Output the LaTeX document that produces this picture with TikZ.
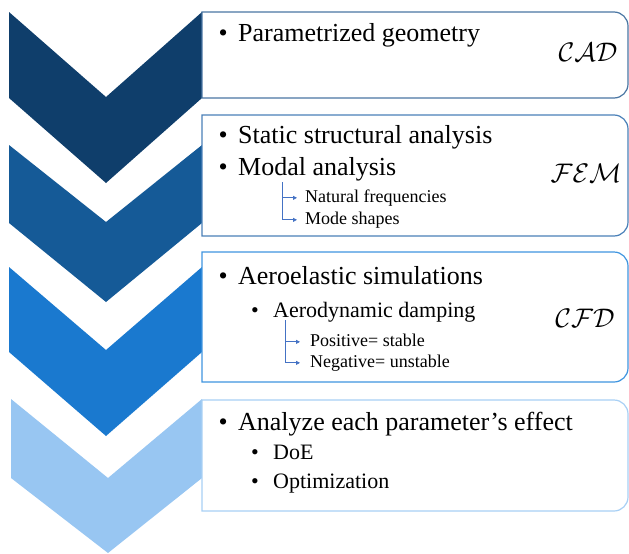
\documentclass[tikz,border=0pt]{standalone}
\usepackage{fontspec}
\setmainfont{Liberation Serif}
\usetikzlibrary{arrows.meta}
\definecolor{chA}{HTML}{0F3E6B}
\definecolor{chB}{HTML}{155A97}
\definecolor{chC}{HTML}{1A79CF}
\definecolor{chD}{HTML}{98C6F2}
\definecolor{bdA}{HTML}{4A76A3}
\definecolor{bdB}{HTML}{4A80B8}
\definecolor{bdC}{HTML}{3F95E0}
\definecolor{bdD}{HTML}{A8D0F5}
\definecolor{connc}{HTML}{4472C4}
\newcommand\bulmark[1]{\makebox[#1pt][l]{•}}
\tikzset{
  chev/.style={draw=none},
  boxst/.style={fill=white,line width=1.2pt},
  lvA/.style={inner sep=0pt,anchor=base west,font=\fontsize{26}{30}\selectfont},
  lvB/.style={inner sep=0pt,anchor=base west,font=\fontsize{22}{26}\selectfont},
  lvC/.style={inner sep=0pt,anchor=base west,font=\fontsize{18}{21}\selectfont,text height=12.3pt,text depth=4pt},
  tag/.style={inner sep=0pt,anchor=center,font=\fontsize{24.88}{30}\selectfont},
  conn/.style={draw=connc,line width=0.8pt,-{Triangle[length=4pt,width=4pt]}}
}
\begin{document}
\begin{tikzpicture}[x=1pt,y=-1pt]
\useasboundingbox (0,0) rectangle (629,554);
% chevrons
\fill[chA] (9,12) -- (106,97) -- (202,12) -- (202,98) -- (106,183) -- (9,98) -- cycle;
\fill[chB] (9,145) -- (106,222) -- (202,145) -- (202,223) -- (106,302) -- (9,223) -- cycle;
\fill[chC] (9,267) -- (106,350) -- (202,267) -- (202,352) -- (106,436) -- (9,352) -- cycle;
\fill[chD] (11,399) -- (108,478) -- (202,399) -- (202,478) -- (108,553) -- (11,478) -- cycle;
% boxes
\draw[boxst,draw=bdA] (202,12) -- (614,12) arc[start angle=-90,end angle=0,radius=14] -- (628,84) arc[start angle=0,end angle=90,radius=14] -- (202,98) -- cycle;
\draw[boxst,draw=bdB] (202,115) -- (614,115) arc[start angle=-90,end angle=0,radius=14] -- (628,222) arc[start angle=0,end angle=90,radius=14] -- (202,236) -- cycle;
\draw[boxst,draw=bdC] (202,252) -- (614,252) arc[start angle=-90,end angle=0,radius=14] -- (628,368) arc[start angle=0,end angle=90,radius=14] -- (202,382) -- cycle;
\draw[boxst,draw=bdD] (202,400) -- (614,400) arc[start angle=-90,end angle=0,radius=14] -- (628,497) arc[start angle=0,end angle=90,radius=14] -- (202,511) -- cycle;
% box 1
\node[lvA] (pg) at (218.5,41) {\bulmark{19.5}Parametrized geometry};
\node[tag] (cad) at (588,52) {\scalebox{1.08}{$\mathcal{CAD}$}};
% box 2
\node[lvA] (ssa) at (218.5,143) {\bulmark{19.5}Static structural analysis};
\node[lvA] (moa) at (218.5,175) {\bulmark{19.5}Modal analysis};
\node[lvC] (nat) at (305,202) {Natural frequencies};
\node[lvC] (mos) at (305,224) {Mode shapes};
\coordinate (mA) at (282,182);
\draw[conn] (mA) |- ([xshift=-8pt]nat.west);
\draw[conn] (mA) |- ([xshift=-8pt]mos.west);
\node[tag] (fem) at (586,173) {\scalebox{1.08}{$\mathcal{FEM}$}};
% box 3
\node[lvA] (aes) at (218.5,284) {\bulmark{19.5}Aeroelastic simulations};
\node[lvB] (add) at (251,317) {\bulmark{22}Aerodynamic damping};
\node[lvC] (pos) at (310,346) {Positive= stable};
\node[lvC] (neg) at (310,367) {Negative= unstable};
\coordinate (mB) at (285,320);
\draw[conn] (mB) |- ([xshift=-10pt]pos.west);
\draw[conn] (mB) |- ([xshift=-10pt]neg.west);
\node[tag] (cfd) at (585,318) {\scalebox{1.08}{$\mathcal{CFD}$}};
% box 4
\node[lvA] (ape) at (218.5,430) {\bulmark{19.5}Analyze each parameter’s effect};
\node[lvB] (doe) at (251,459) {\bulmark{22}DoE};
\node[lvB] (opt) at (251,488) {\bulmark{22}Optimization};
\end{tikzpicture}
\end{document}
